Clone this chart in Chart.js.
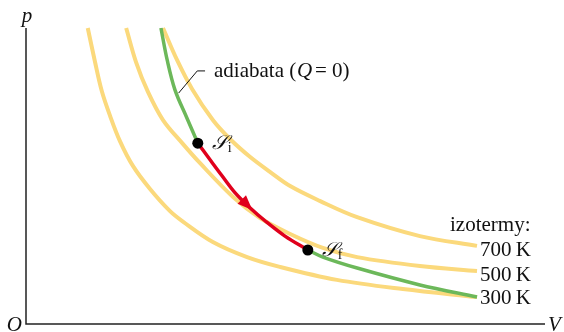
<!DOCTYPE html>
<html>
<head>
<meta charset="utf-8">
<script src="https://cdn.jsdelivr.net/npm/chart.js@4.4.0/dist/chart.umd.min.js"></script>
<style>
  html, body { margin: 0; padding: 0; background: #fff; }
  #wrap { width: 564px; height: 332px; }
</style>
</head>
<body>
<div id="wrap"><canvas id="pvChart" width="564" height="332"></canvas></div>
<script>
// objem V a tlak p (libovolné jednotky)
const iso300V = [1.19, 1.33, 1.46, 1.62, 1.81, 2.06, 2.39, 2.77, 3.03, 3.60, 4.26, 4.89, 5.99, 7.26, 8.69];
const iso300P = [10.0, 8.85, 7.87, 7.03, 6.18, 5.34, 4.56, 3.82, 3.45, 2.77, 2.26, 1.93, 1.49, 1.18, 0.91];
const iso500V = [1.93, 2.12, 2.35, 2.64, 3.01, 3.35, 3.99, 4.51, 5.09, 5.72, 6.38, 7.59, 8.69];
const iso500P = [10.0, 8.85, 7.84, 6.89, 6.11, 5.44, 4.29, 3.58, 3.04, 2.57, 2.26, 1.96, 1.79];
const iso700V = [2.64, 2.91, 3.20, 3.60, 3.93, 4.32, 4.70, 5.09, 5.66, 6.38, 7.59, 8.69];
const iso700P = [10.0, 8.92, 7.94, 6.89, 6.25, 5.64, 5.14, 4.66, 4.16, 3.61, 2.97, 2.64];
// adiabata: horní část, děj Si -> Sf, dolní část
const adiaUpperV = [2.60, 2.72, 2.87, 3.10, 3.31];
const adiaUpperP = [10.0, 8.92, 7.91, 6.96, 6.11];
const processV = [3.31, 3.55, 3.78, 4.03, 4.32, 4.61, 4.99, 5.43];
const processP = [6.11, 5.54, 5.00, 4.43, 3.92, 3.48, 2.97, 2.50];
const adiaLowerV = [5.43, 5.72, 6.38, 7.59, 8.69];
const adiaLowerP = [2.50, 2.26, 1.89, 1.32, 0.91];
const stateV = [3.31, 5.43];
const stateP = [6.11, 2.50];
const stateNames = ['i', 'f'];
const isoLabels = ['300\u2009K', '500\u2009K', '700\u2009K'];

const yellow = '#fbd97c';
const green = '#6cb85a';
const red = '#e0001c';
const serif = '"Liberation Serif", "Times New Roman", serif';

function pts(xs, ys) {
    return xs.map((v, i) => ({ x: v, y: ys[i] }));
}

function curve(xs, ys, color, width, order) {
    return {
        data: pts(xs, ys),
        borderColor: color,
        borderWidth: width,
        pointRadius: 0,
        tension: 0.35,
        clip: false,
        order: order
    };
}

const labelsPlugin = {
    id: 'pvLabels',
    afterDatasetsDraw(chart) {
        const ctx = chart.ctx;
        const area = chart.chartArea;
        const xs = chart.scales.x;
        const ys = chart.scales.y;
        ctx.save();

        // osy
        ctx.strokeStyle = '#222';
        ctx.lineWidth = 1.5;
        ctx.beginPath();
        ctx.moveTo(area.left, area.top);
        ctx.lineTo(area.left, area.bottom);
        ctx.lineTo(area.right, area.bottom);
        ctx.stroke();

        ctx.fillStyle = '#111';
        ctx.textBaseline = 'alphabetic';
        ctx.font = 'italic 21px ' + serif;
        ctx.textAlign = 'center';
        ctx.fillText('p', area.left + 1, 22);
        ctx.textAlign = 'right';
        ctx.fillText('O', area.left - 4, 331);
        ctx.textAlign = 'left';
        ctx.fillText('V', area.right + 3, 331);

        // šipka na ději
        const redPts = chart.getDatasetMeta(1).data;
        const a = redPts[3], b = redPts[4];
        let dx = b.x - a.x, dy = b.y - a.y;
        const len = Math.hypot(dx, dy);
        dx /= len; dy /= len;
        const tipX = b.x + dx * 3, tipY = b.y + dy * 3;
        const baseX = tipX - dx * 15, baseY = tipY - dy * 15;
        ctx.fillStyle = red;
        ctx.beginPath();
        ctx.moveTo(tipX, tipY);
        ctx.lineTo(baseX - dy * 6, baseY + dx * 6);
        ctx.lineTo(baseX + dy * 6, baseY - dx * 6);
        ctx.closePath();
        ctx.fill();

        // popisek adiabaty s odkazovou čarou
        ctx.strokeStyle = '#111';
        ctx.lineWidth = 1;
        ctx.beginPath();
        ctx.moveTo(xs.getPixelForValue(2.94), ys.getPixelForValue(7.80));
        ctx.lineTo(xs.getPixelForValue(3.30), ys.getPixelForValue(8.55));
        ctx.lineTo(xs.getPixelForValue(3.45), ys.getPixelForValue(8.55));
        ctx.stroke();

        ctx.fillStyle = '#111';
        const ty = 77;
        ctx.font = '21px ' + serif;
        ctx.fillText('adiabata (', 214, ty);
        ctx.fillText('=', 315, ty);
        ctx.fillText('0)', 332, ty);
        ctx.font = 'italic 21px ' + serif;
        ctx.fillText('Q', 297, ty);

        // stavy Si, Sf
        stateV.forEach((v, i) => {
            const px = xs.getPixelForValue(v);
            const py = ys.getPixelForValue(stateP[i]);
            ctx.font = 'italic 20px ' + serif;
            ctx.fillText('\u{1D4AE}', px + 14, py + 6);
            const w = ctx.measureText('\u{1D4AE}').width;
            ctx.font = '14px ' + serif;
            ctx.fillText(stateNames[i], px + 15 + w, py + 9);
        });

        // izotermy
        ctx.font = '21px ' + serif;
        const endP = [iso300P, iso500P, iso700P];
        const endV = [iso300V, iso500V, iso700V];
        endP.forEach((arr, i) => {
            const px = xs.getPixelForValue(endV[i][endV[i].length - 1]);
            const py = ys.getPixelForValue(arr[arr.length - 1]);
            ctx.fillText(isoLabels[i], px + 3, py + (i === 0 ? 7 : 10));
        });
        ctx.fillText('izotermy:', 450, 231);

        ctx.restore();
    }
};

new Chart(document.getElementById('pvChart'), {
    type: 'line',
    data: {
        datasets: [
            {
                data: pts(stateV, stateP),
                showLine: false,
                pointRadius: 5.5,
                pointBackgroundColor: '#000',
                pointBorderWidth: 0,
                clip: false,
                order: 0
            },
            curve(processV, processP, red, 3.5, 1),
            curve(adiaUpperV, adiaUpperP, green, 3.5, 2),
            curve(adiaLowerV, adiaLowerP, green, 3.5, 2),
            curve(iso300V, iso300P, yellow, 4, 3),
            curve(iso500V, iso500P, yellow, 4, 3),
            curve(iso700V, iso700P, yellow, 4, 3)
        ]
    },
    options: {
        responsive: false,
        animation: false,
        devicePixelRatio: 1,
        layout: { padding: { left: 26, right: 19, top: 28, bottom: 8 } },
        scales: {
            x: { type: 'linear', min: 0, max: 10, display: false },
            y: { type: 'linear', min: 0, max: 10, display: false }
        },
        plugins: {
            legend: { display: false },
            tooltip: { enabled: false }
        }
    },
    plugins: [labelsPlugin]
});
</script>
</body>
</html>
